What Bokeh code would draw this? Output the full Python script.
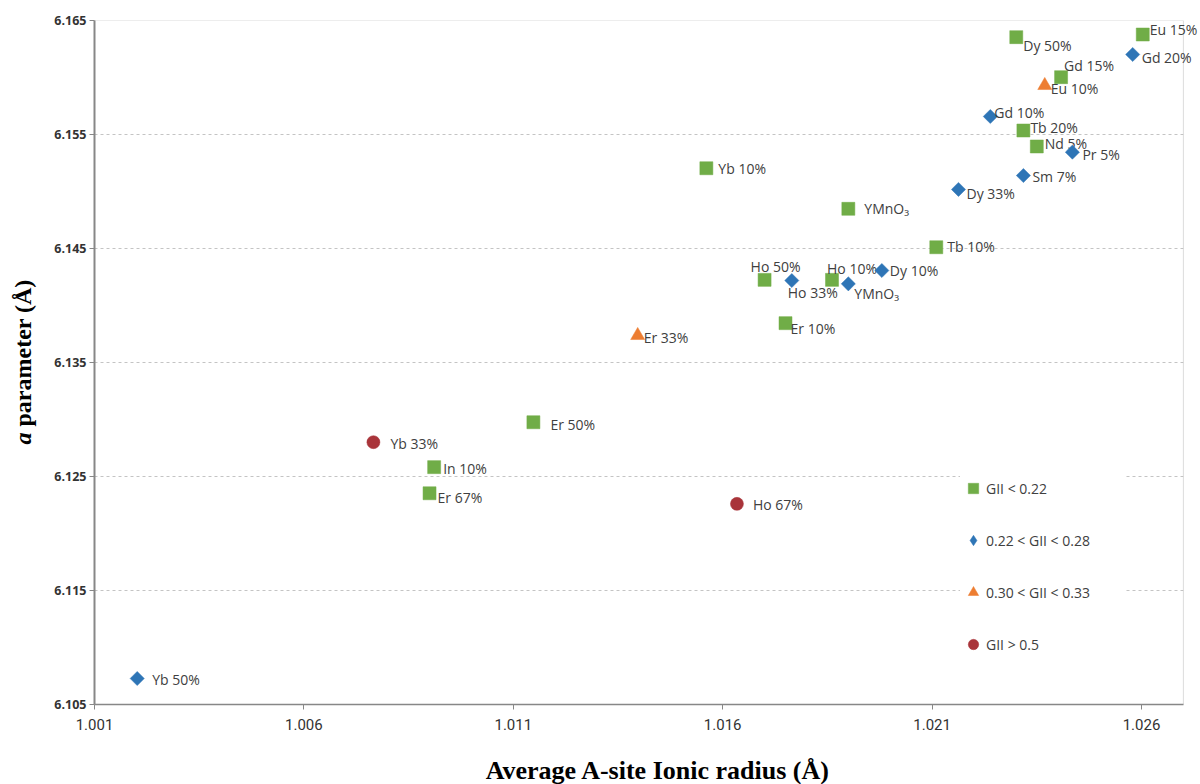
import numpy as np
from bokeh.plotting import figure
from bokeh.layouts import row, column
from bokeh.models import (ColumnDataSource, Legend, LegendItem, Label, FixedTicker,
                          NumeralTickFormatter, Range1d, BoxAnnotation)
from bokeh.core.properties import value
from bokeh.embed import file_html
from bokeh.resources import INLINE

# ---------------- data ----------------
# GII < 0.22 (green squares)
low_labels = ["Eu 15%", "Dy 50%", "Gd 15%", "Tb 20%", "Nd 5%", "Yb 10%", "YMnO\u2083",
              "Tb 10%", "Ho 50%", "Ho 10%", "Er 10%", "Er 50%", "In 10%", "Er 67%"]
low_radius = [1.02603, 1.02301, 1.02408, 1.02318, 1.02350, 1.01561, 1.01900,
              1.02110, 1.01700, 1.01861, 1.01750, 1.01148, 1.00911, 1.00900]
low_a = [6.16377, 6.16354, 6.16003, 6.15535, 6.15395, 6.15204, 6.14848,
         6.14511, 6.14225, 6.14225, 6.13845, 6.12976, 6.12582, 6.12353]

# 0.22 < GII < 0.28 (blue diamonds)
mid_labels = ["Gd 20%", "Gd 10%", "Pr 5%", "Sm 7%", "Dy 33%", "Dy 10%", "Ho 33%",
              "YMnO\u2083", "Yb 50%"]
mid_radius = [1.02579, 1.02239, 1.02435, 1.02318, 1.02163, 1.01980, 1.01765,
              1.01900, 1.00202]
mid_a = [6.16202, 6.15658, 6.15345, 6.15140, 6.15018, 6.14307, 6.14219,
         6.14190, 6.10728]

# 0.30 < GII < 0.33 (orange triangles)
high_labels = ["Eu 10%", "Er 33%"]
high_radius = [1.02369, 1.01397]
high_a = [6.15930, 6.13737]

# GII > 0.5 (red circles)
vhigh_labels = ["Yb 33%", "Ho 67%"]
vhigh_radius = [1.00766, 1.01634]
vhigh_a = [6.12801, 6.12260]

series_names = ["GII < 0.22", "0.22 < GII < 0.28", "0.30 < GII < 0.33", "GII > 0.5"]

x_ticks = [1.001, 1.006, 1.011, 1.016, 1.021, 1.026]
y_ticks = [6.105, 6.115, 6.125, 6.135, 6.145, 6.155, 6.165]
x_min, x_max = 1.001, 1.027
y_min, y_max = 6.105, 6.165

x_title = "Average A-site Ionic radius (\u00c5)"
y_title_italic = "a"
y_title_rest = "parameter (\u00c5)"

# ---------------- label placement (style, pixels) ----------------
low_dx = [7, 7, 3, 7, 8, 12, 16, 11, -14, -5, 5, 17, 9, 8]
low_dy = [-5, 8, -12, -3, -3, 0, 0, -1, -13, -11, 5, 2, 1, 4]
mid_dx = [9, 4, 10, 9, 8, 8, -4, 6, 15]
mid_dy = [3, -4, 2, 1, 4, 0, 12, 10, 1]
high_dx = [6, 6]
high_dy = [3, 2]
vhigh_dx = [17, 16]
vhigh_dy = [1, 1]

GREEN = "#70AD47"
BLUE = "#2E75B6"
ORANGE = "#ED7D31"
RED = "#A9343A"
TXT = "#404040"
AXC = "#878787"

# pixel geometry
PX_PER_UNIT = 41880.0          # px per 1 Å on x
YFIG_W = 40
MAIN_W = 1160
MAIN_H = 744
XFIG_H = 40
BL, BT, BB = 54, 20, 40
frame_w = MAIN_W - BL
x_end = x_min + frame_w / PX_PER_UNIT

p = figure(width=MAIN_W, height=MAIN_H, output_backend="svg", toolbar_location=None,
           x_range=Range1d(x_min, x_end), y_range=Range1d(y_min, y_max),
           min_border_left=BL, min_border_right=0, min_border_top=BT,
           min_border_bottom=BB)

p.outline_line_color = None
p.xgrid.grid_line_color = None
p.ygrid.grid_line_color = "#c4c4c4"
p.ygrid.grid_line_dash = "3 3"
p.ygrid.grid_line_width = 1

# hide grid beyond the plot-area border, then draw the border
p.add_layout(BoxAnnotation(left=x_max, fill_color="white", fill_alpha=1.0,
                           line_alpha=0, level="underlay"))
p.add_layout(BoxAnnotation(left=x_min, right=x_max, bottom=y_min, top=y_max,
                           fill_alpha=0, line_color=AXC, line_width=1, level="underlay"))

p.xaxis.ticker = FixedTicker(ticks=x_ticks)
p.yaxis.ticker = FixedTicker(ticks=y_ticks)
p.xaxis.formatter = NumeralTickFormatter(format="0.000")
p.yaxis.formatter = NumeralTickFormatter(format="0.000")
p.xaxis.bounds = (x_min, x_max)
for ax in (p.xaxis, p.yaxis):
    ax.axis_line_color = AXC
    ax.major_tick_line_color = AXC
    ax.major_tick_in = 0
    ax.major_tick_out = 5
    ax.minor_tick_line_color = None
    ax.major_label_text_color = "#333333"
p.yaxis.axis_line_width = 2
p.xaxis.axis_line_width = 1.5
p.xaxis.major_label_text_font = "Roboto"
p.xaxis.major_label_text_font_size = "15px"
p.xaxis.major_label_standoff = 9
p.yaxis.major_label_text_font = "Open Sans"
p.yaxis.major_label_text_font_size = "12.5px"
p.yaxis.major_label_text_font_style = "bold"
p.yaxis.major_label_standoff = 3

groups = [
    (low_labels, low_radius, low_a, low_dx, low_dy, "square", 13, 0.0, GREEN),
    (mid_labels, mid_radius, mid_a, mid_dx, mid_dy, "square", 10, np.pi / 4, BLUE),
    (high_labels, high_radius, high_a, high_dx, high_dy, "triangle", 14, 0.0, ORANGE),
    (vhigh_labels, vhigh_radius, vhigh_a, vhigh_dx, vhigh_dy, "circle", 13, 0.0, RED),
]
legend_markers = ["square", "diamond", "triangle", "circle"]

legend_items = []
for (labels, xs, ys, dxs, dys, marker, size, ang, color), name, lm in zip(
        groups, series_names, legend_markers):
    src = ColumnDataSource(dict(x=xs, y=ys, label=labels, dx=dxs, dy=dys))
    p.scatter("x", "y", source=src, marker=marker, size=size, angle=ang,
              fill_color=color, line_color=color, line_width=0.5)
    p.text("x", "y", text="label", source=src, x_offset="dx", y_offset="dy",
           text_font=value("Open Sans"), text_font_size="14px", text_color=TXT,
           text_align="left", text_baseline="middle")
    # legend swatch renderer (a single undrawn NaN point, used only for the key)
    sw_src = ColumnDataSource(dict(x=np.array([np.nan]), y=np.array([np.nan])))
    sw = p.scatter("x", "y", source=sw_src, marker=lm, size=size, fill_color=color,
                   line_color=color, line_width=0.5)
    legend_items.append(LegendItem(label=name, renderers=[sw]))

legend = Legend(items=legend_items,
                location=(866, 47), padding=0, margin=0, spacing=26,
                glyph_width=26, glyph_height=26, label_height=26, label_width=140,
                label_standoff=0, border_line_color=None,
                background_fill_color="white", background_fill_alpha=1.0,
                label_text_font="Open Sans", label_text_font_size="14px",
                label_text_color=TXT)
p.add_layout(legend)

# ---- y title panel ----
yfig = figure(width=YFIG_W, height=MAIN_H + XFIG_H, output_backend="svg",
              toolbar_location=None, x_range=Range1d(0, YFIG_W),
              y_range=Range1d(0, MAIN_H + XFIG_H), x_axis_location=None,
              y_axis_location=None, min_border=0)
yfig.outline_line_color = None
yfig.grid.visible = False
yfig.add_layout(Label(x=22, y=340, angle=np.pi / 2, text=y_title_italic,
                      text_font="Liberation Serif", text_font_style="bold italic",
                      text_font_size="24px", text_color="black",
                      text_align="left", text_baseline="middle"))
yfig.add_layout(Label(x=22, y=358, angle=np.pi / 2, text=y_title_rest,
                      text_font="Liberation Serif", text_font_style="bold",
                      text_font_size="24px", text_color="black",
                      text_align="left", text_baseline="middle"))

# ---- x title panel ----
xfig = figure(width=MAIN_W, height=XFIG_H, output_backend="svg", toolbar_location=None,
              x_range=Range1d(0, MAIN_W), y_range=Range1d(0, XFIG_H),
              x_axis_location=None, y_axis_location=None, min_border=0)
xfig.outline_line_color = None
xfig.grid.visible = False
xfig.add_layout(Label(x=591, y=14, text=x_title, text_font="Liberation Serif",
                      text_font_style="bold", text_font_size="26px", text_color="black",
                      text_align="center", text_baseline="alphabetic"))

layout = row(yfig, column(p, xfig))
open("out.html", "w").write(file_html(layout, INLINE))
